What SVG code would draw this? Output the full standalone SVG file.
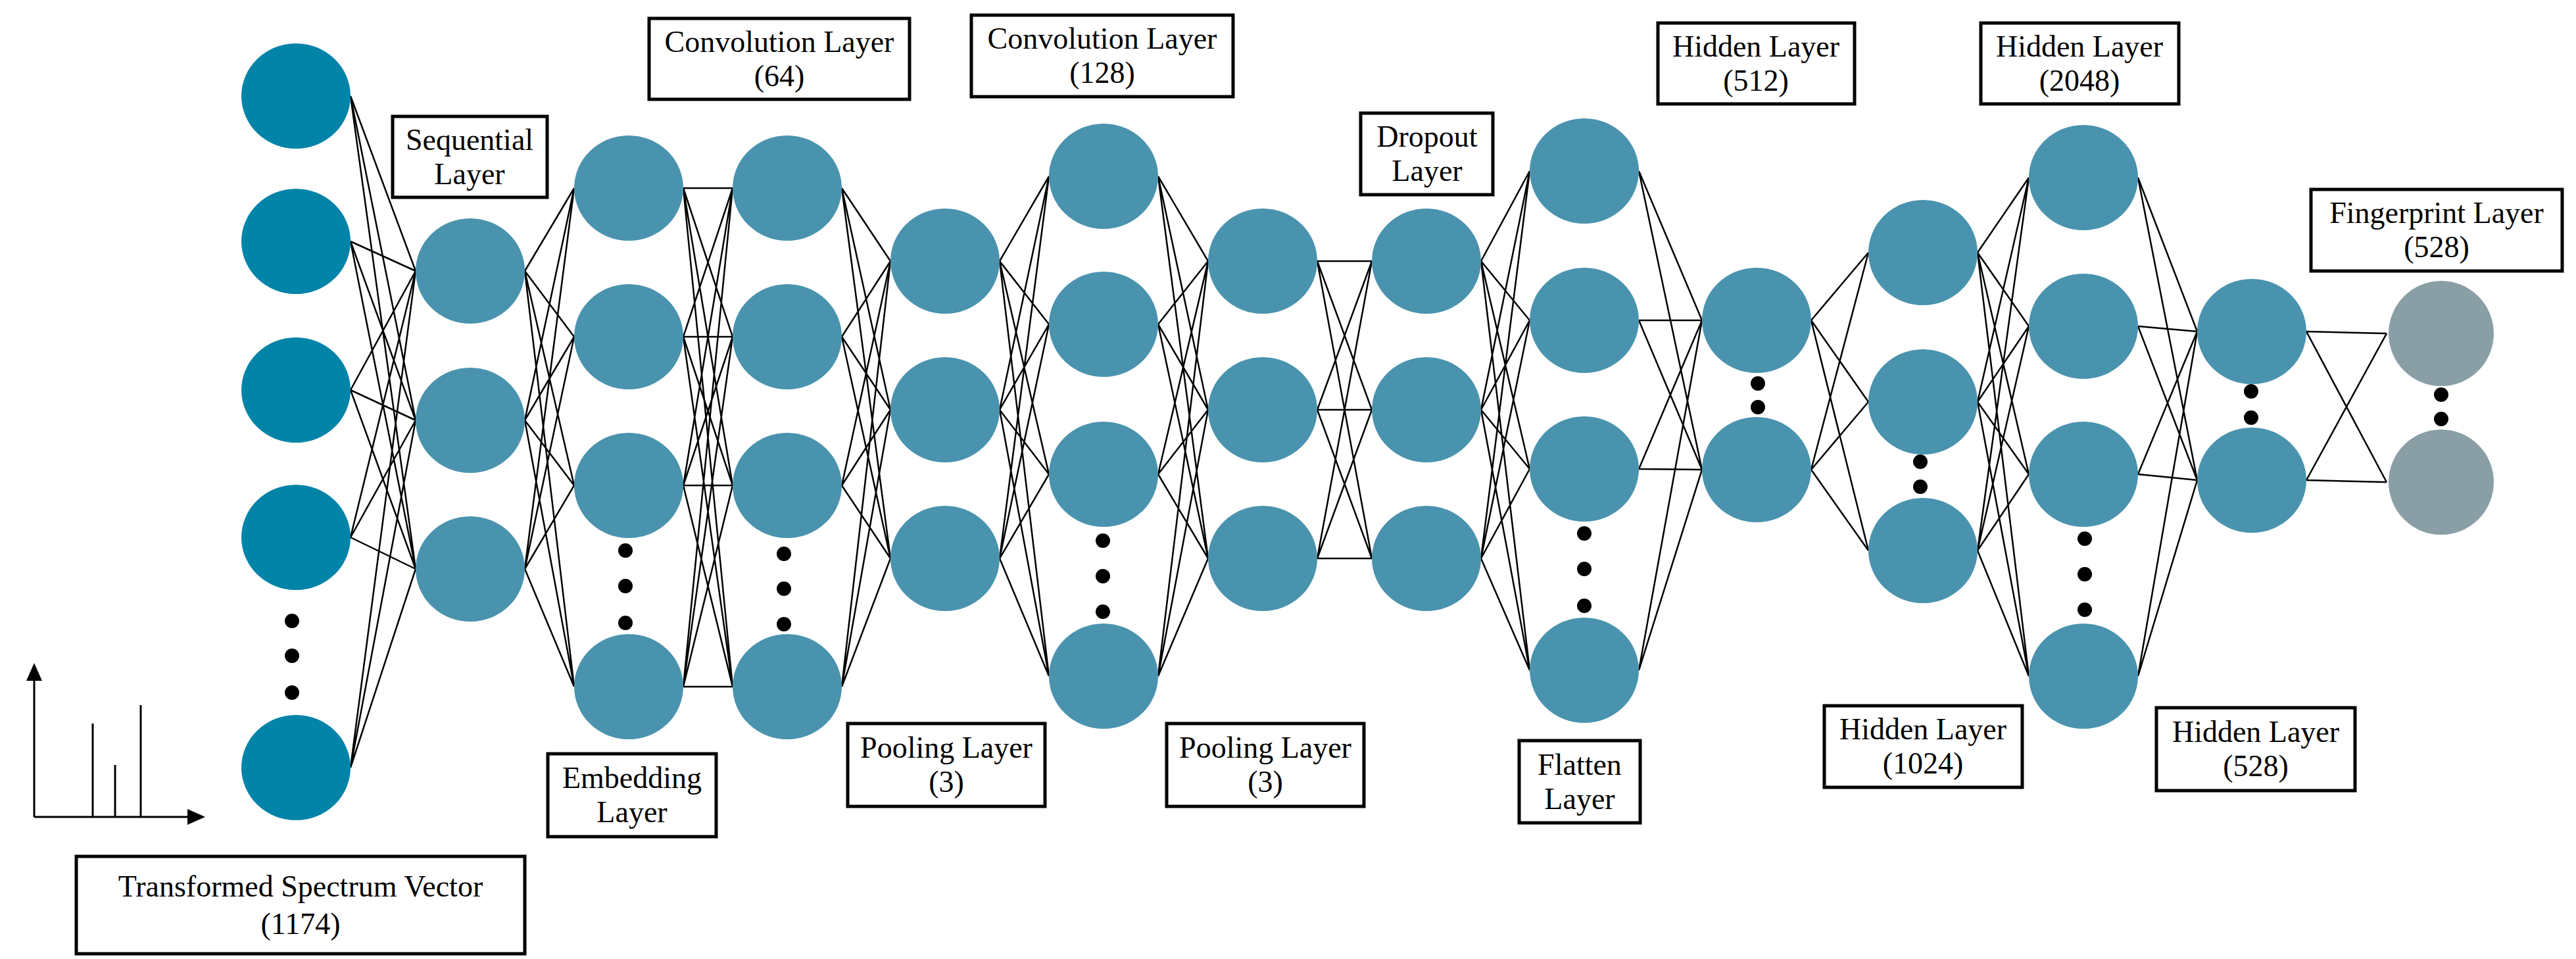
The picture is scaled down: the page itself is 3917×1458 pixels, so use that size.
<svg xmlns="http://www.w3.org/2000/svg" width="3917" height="1458" viewBox="0 0 3917 1458">
<style>
.n{fill:#4A93AE}.i{fill:#0283A8}.f{fill:#8A9EA6}
.b{fill:#fff;stroke:#000;stroke-width:5}
.t{font-family:"Liberation Serif",serif;font-size:46px;text-anchor:middle;fill:#000}
.c path{stroke:#000;stroke-width:2.5;fill:none}
.d{fill:#000}
</style>
<defs><marker id="ar" markerWidth="10" markerHeight="10" refX="5" refY="5" orient="auto"><path d="M0,1 L9,5 L0,9z" fill="#000"/></marker></defs>
<g id="spectrum" stroke="#000" stroke-width="3" fill="none">
<path d="M52,1242 L52,1020" marker-end="url(#ar)"/><path d="M52,1242 L300,1242" marker-end="url(#ar)"/>
<path d="M141,1242V1100M175,1242V1163M214,1242V1072"/>
</g>
<g class="c" id="connectors">
<path d="M533,146L632,412M533,146L632,639M533,146L632,865M533,367L632,412M533,367L632,639M533,367L632,865M533,593L632,412M533,593L632,639M533,593L632,865M533,817L632,412M533,817L632,639M533,817L632,865M533,1167L632,412M533,1167L632,639M533,1167L632,865"/>
<path d="M798,412L873,286M798,412L873,512M798,412L873,738M798,412L873,1044M798,639L873,286M798,639L873,512M798,639L873,738M798,639L873,1044M798,865L873,286M798,865L873,512M798,865L873,738M798,865L873,1044"/>
<path d="M1039,286L1114,286M1039,286L1114,512M1039,286L1114,738M1039,286L1114,1044M1039,512L1114,286M1039,512L1114,512M1039,512L1114,738M1039,512L1114,1044M1039,738L1114,286M1039,738L1114,512M1039,738L1114,738M1039,738L1114,1044M1039,1044L1114,286M1039,1044L1114,512M1039,1044L1114,738M1039,1044L1114,1044"/>
<path d="M1280,286L1354,397M1280,286L1354,623M1280,286L1354,849M1280,512L1354,397M1280,512L1354,623M1280,512L1354,849M1280,738L1354,397M1280,738L1354,623M1280,738L1354,849M1280,1044L1354,397M1280,1044L1354,623M1280,1044L1354,849"/>
<path d="M1520,397L1595,268M1520,397L1595,493M1520,397L1595,721M1520,397L1595,1028M1520,623L1595,268M1520,623L1595,493M1520,623L1595,721M1520,623L1595,1028M1520,849L1595,268M1520,849L1595,493M1520,849L1595,721M1520,849L1595,1028"/>
<path d="M1761,268L1837,397M1761,268L1837,623M1761,268L1837,849M1761,493L1837,397M1761,493L1837,623M1761,493L1837,849M1761,721L1837,397M1761,721L1837,623M1761,721L1837,849M1761,1028L1837,397M1761,1028L1837,623M1761,1028L1837,849"/>
<path d="M2003,397L2086,397M2003,397L2086,623M2003,397L2086,849M2003,623L2086,397M2003,623L2086,623M2003,623L2086,849M2003,849L2086,397M2003,849L2086,623M2003,849L2086,849"/>
<path d="M2252,397L2326,260M2252,397L2326,487M2252,397L2326,713M2252,397L2326,1019M2252,623L2326,260M2252,623L2326,487M2252,623L2326,713M2252,623L2326,1019M2252,849L2326,260M2252,849L2326,487M2252,849L2326,713M2252,849L2326,1019"/>
<path d="M2492,260L2588,487M2492,260L2588,714M2492,487L2588,487M2492,487L2588,714M2492,713L2588,487M2492,713L2588,714M2492,1019L2588,487M2492,1019L2588,714"/>
<path d="M2754,487L2841,384M2754,487L2841,611M2754,487L2841,837M2754,714L2841,384M2754,714L2841,611M2754,714L2841,837"/>
<path d="M3007,384L3085,270M3007,384L3085,496M3007,384L3085,721M3007,384L3085,1028M3007,611L3085,270M3007,611L3085,496M3007,611L3085,721M3007,611L3085,1028M3007,837L3085,270M3007,837L3085,496M3007,837L3085,721M3007,837L3085,1028"/>
<path d="M3251,270L3341,504M3251,270L3341,730M3251,496L3341,504M3251,496L3341,730M3251,721L3341,504M3251,721L3341,730M3251,1028L3341,504M3251,1028L3341,730"/>
<path d="M3507,504L3629,507M3507,504L3629,733M3507,730L3629,507M3507,730L3629,733"/>
</g>
<g id="input"><ellipse class="i" cx="450" cy="146" rx="83" ry="80"/><ellipse class="i" cx="450" cy="367" rx="83" ry="80"/><ellipse class="i" cx="450" cy="593" rx="83" ry="80"/><ellipse class="i" cx="450" cy="817" rx="83" ry="80"/><ellipse class="i" cx="450" cy="1167" rx="83" ry="80"/><circle class="d" cx="444" cy="944" r="11"/><circle class="d" cx="444" cy="997" r="11"/><circle class="d" cx="444" cy="1053" r="11"/></g>
<g id="sequential"><ellipse class="n" cx="715" cy="412" rx="83" ry="80"/><ellipse class="n" cx="715" cy="639" rx="83" ry="80"/><ellipse class="n" cx="715" cy="865" rx="83" ry="80"/></g>
<g id="embedding"><ellipse class="n" cx="956" cy="286" rx="83" ry="80"/><ellipse class="n" cx="956" cy="512" rx="83" ry="80"/><ellipse class="n" cx="956" cy="738" rx="83" ry="80"/><ellipse class="n" cx="956" cy="1044" rx="83" ry="80"/><circle class="d" cx="951" cy="837" r="11"/><circle class="d" cx="951" cy="891" r="11"/><circle class="d" cx="951" cy="947" r="11"/></g>
<g id="conv64"><ellipse class="n" cx="1197" cy="286" rx="83" ry="80"/><ellipse class="n" cx="1197" cy="512" rx="83" ry="80"/><ellipse class="n" cx="1197" cy="738" rx="83" ry="80"/><ellipse class="n" cx="1197" cy="1044" rx="83" ry="80"/><circle class="d" cx="1192" cy="842" r="11"/><circle class="d" cx="1192" cy="895" r="11"/><circle class="d" cx="1192" cy="949" r="11"/></g>
<g id="pool1"><ellipse class="n" cx="1437" cy="397" rx="83" ry="80"/><ellipse class="n" cx="1437" cy="623" rx="83" ry="80"/><ellipse class="n" cx="1437" cy="849" rx="83" ry="80"/></g>
<g id="conv128"><ellipse class="n" cx="1678" cy="268" rx="83" ry="80"/><ellipse class="n" cx="1678" cy="493" rx="83" ry="80"/><ellipse class="n" cx="1678" cy="721" rx="83" ry="80"/><ellipse class="n" cx="1678" cy="1028" rx="83" ry="80"/><circle class="d" cx="1677" cy="822" r="11"/><circle class="d" cx="1677" cy="876" r="11"/><circle class="d" cx="1677" cy="930" r="11"/></g>
<g id="pool2"><ellipse class="n" cx="1920" cy="397" rx="83" ry="80"/><ellipse class="n" cx="1920" cy="623" rx="83" ry="80"/><ellipse class="n" cx="1920" cy="849" rx="83" ry="80"/></g>
<g id="dropout"><ellipse class="n" cx="2169" cy="397" rx="83" ry="80"/><ellipse class="n" cx="2169" cy="623" rx="83" ry="80"/><ellipse class="n" cx="2169" cy="849" rx="83" ry="80"/></g>
<g id="flatten"><ellipse class="n" cx="2409" cy="260" rx="83" ry="80"/><ellipse class="n" cx="2409" cy="487" rx="83" ry="80"/><ellipse class="n" cx="2409" cy="713" rx="83" ry="80"/><ellipse class="n" cx="2409" cy="1019" rx="83" ry="80"/><circle class="d" cx="2409" cy="811" r="11"/><circle class="d" cx="2409" cy="865" r="11"/><circle class="d" cx="2409" cy="921" r="11"/></g>
<g id="hidden512"><ellipse class="n" cx="2671" cy="487" rx="83" ry="80"/><ellipse class="n" cx="2671" cy="714" rx="83" ry="80"/><circle class="d" cx="2673" cy="583" r="11"/><circle class="d" cx="2673" cy="619" r="11"/></g>
<g id="hidden1024"><ellipse class="n" cx="2924" cy="384" rx="83" ry="80"/><ellipse class="n" cx="2924" cy="611" rx="83" ry="80"/><ellipse class="n" cx="2924" cy="837" rx="83" ry="80"/><circle class="d" cx="2920" cy="702" r="11"/><circle class="d" cx="2920" cy="740" r="11"/></g>
<g id="hidden2048"><ellipse class="n" cx="3168" cy="270" rx="83" ry="80"/><ellipse class="n" cx="3168" cy="496" rx="83" ry="80"/><ellipse class="n" cx="3168" cy="721" rx="83" ry="80"/><ellipse class="n" cx="3168" cy="1028" rx="83" ry="80"/><circle class="d" cx="3170" cy="819" r="11"/><circle class="d" cx="3170" cy="873" r="11"/><circle class="d" cx="3170" cy="927" r="11"/></g>
<g id="hidden528"><ellipse class="n" cx="3424" cy="504" rx="83" ry="80"/><ellipse class="n" cx="3424" cy="730" rx="83" ry="80"/><circle class="d" cx="3423" cy="595" r="11"/><circle class="d" cx="3423" cy="635" r="11"/></g>
<g id="fingerprint"><ellipse class="f" cx="3712" cy="507" rx="80" ry="80"/><ellipse class="f" cx="3712" cy="733" rx="80" ry="80"/><circle class="d" cx="3712" cy="600" r="11"/><circle class="d" cx="3712" cy="637" r="11"/></g>
<g id="labels">
<g id="lbl-seq"><rect class="b" x="597" y="177" width="235" height="123"/><text class="t" x="714" y="228">Sequential</text><text class="t" x="714" y="280">Layer</text></g>
<g id="lbl-conv64"><rect class="b" x="987" y="28" width="396" height="123"/><text class="t" x="1185" y="79">Convolution Layer</text><text class="t" x="1185" y="131">(64)</text></g>
<g id="lbl-conv128"><rect class="b" x="1477" y="23" width="398" height="124"/><text class="t" x="1676" y="74">Convolution Layer</text><text class="t" x="1676" y="126">(128)</text></g>
<g id="lbl-drop"><rect class="b" x="2069" y="172" width="201" height="124"/><text class="t" x="2170" y="223">Dropout</text><text class="t" x="2170" y="275">Layer</text></g>
<g id="lbl-h512"><rect class="b" x="2521" y="35" width="299" height="123"/><text class="t" x="2670" y="86">Hidden Layer</text><text class="t" x="2670" y="138">(512)</text></g>
<g id="lbl-h2048"><rect class="b" x="3012" y="35" width="301" height="123"/><text class="t" x="3162" y="86">Hidden Layer</text><text class="t" x="3162" y="138">(2048)</text></g>
<g id="lbl-fp"><rect class="b" x="3514" y="288" width="382" height="124"/><text class="t" x="3705" y="339">Fingerprint Layer</text><text class="t" x="3705" y="391">(528)</text></g>
<g id="lbl-emb"><rect class="b" x="833" y="1146" width="256" height="126"/><text class="t" x="961" y="1198">Embedding</text><text class="t" x="961" y="1250">Layer</text></g>
<g id="lbl-pool1"><rect class="b" x="1289" y="1100" width="300" height="126"/><text class="t" x="1439" y="1152">Pooling Layer</text><text class="t" x="1439" y="1204">(3)</text></g>
<g id="lbl-pool2"><rect class="b" x="1774" y="1100" width="300" height="126"/><text class="t" x="1924" y="1152">Pooling Layer</text><text class="t" x="1924" y="1204">(3)</text></g>
<g id="lbl-flat"><rect class="b" x="2310" y="1126" width="184" height="125"/><text class="t" x="2402" y="1178">Flatten</text><text class="t" x="2402" y="1230">Layer</text></g>
<g id="lbl-h1024"><rect class="b" x="2774" y="1073" width="301" height="124"/><text class="t" x="2924" y="1124">Hidden Layer</text><text class="t" x="2924" y="1176">(1024)</text></g>
<g id="lbl-h528"><rect class="b" x="3279" y="1076" width="302" height="126"/><text class="t" x="3430" y="1128">Hidden Layer</text><text class="t" x="3430" y="1180">(528)</text></g>
<g id="lbl-in"><rect class="b" x="116" y="1302" width="682" height="148"/><text class="t" x="457" y="1363">Transformed Spectrum Vector</text><text class="t" x="457" y="1420">(1174)</text></g>
</g>
</svg>
